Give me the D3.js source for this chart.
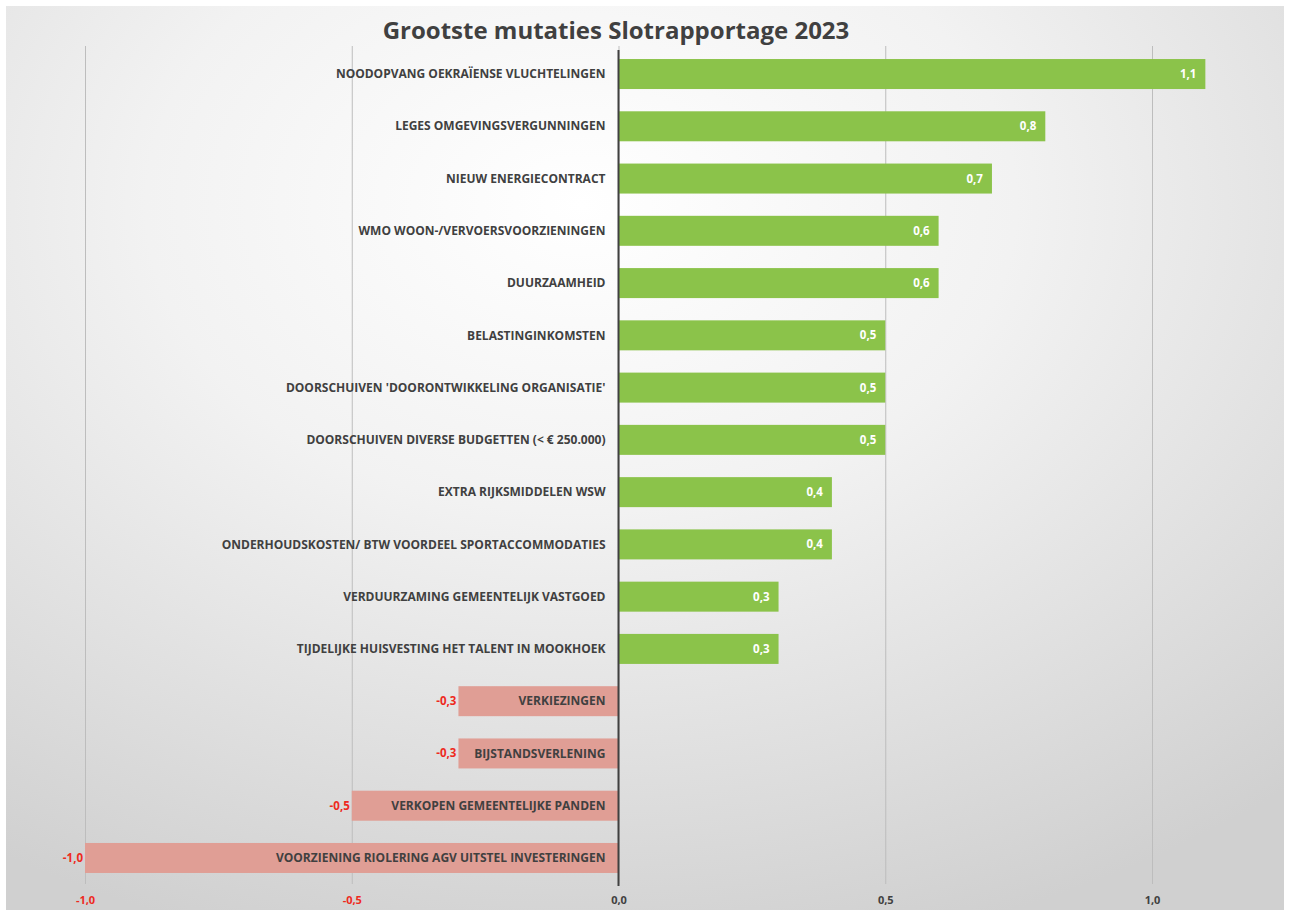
<!DOCTYPE html>
<html>
<head>
<meta charset="utf-8">
<script src="https://cdn.jsdelivr.net/npm/d3@7"></script>
<style>
  body { margin: 0; background: #fff; }
  svg { display: block; }
</style>
</head>
<body>
<svg id="chart"></svg>
<script>
const width = 1290;
const height = 910;

const categories = [
  "NOODOPVANG OEKRAÏENSE VLUCHTELINGEN",
  "LEGES OMGEVINGSVERGUNNINGEN",
  "NIEUW ENERGIECONTRACT",
  "WMO WOON-/VERVOERSVOORZIENINGEN",
  "DUURZAAMHEID",
  "BELASTINGINKOMSTEN",
  "DOORSCHUIVEN 'DOORONTWIKKELING ORGANISATIE'",
  "DOORSCHUIVEN DIVERSE BUDGETTEN (< € 250.000)",
  "EXTRA RIJKSMIDDELEN WSW",
  "ONDERHOUDSKOSTEN/ BTW VOORDEEL SPORTACCOMMODATIES",
  "VERDUURZAMING GEMEENTELIJK VASTGOED",
  "TIJDELIJKE HUISVESTING HET TALENT IN MOOKHOEK",
  "VERKIEZINGEN",
  "BIJSTANDSVERLENING",
  "VERKOPEN GEMEENTELIJKE PANDEN",
  "VOORZIENING RIOLERING AGV UITSTEL INVESTERINGEN"
];
const values = [1.1, 0.8, 0.7, 0.6, 0.6, 0.5, 0.5, 0.5, 0.4, 0.4, 0.3, 0.3, -0.3, -0.3, -0.5, -1.0];
const tickValues = [-1.0, -0.5, 0.0, 0.5, 1.0];

// comma decimals, plain hyphen for minus
const fmt = d => d3.format(".1f")(d).replace(".", ",").replace("\u2212", "-");

const svg = d3.select("#chart")
  .attr("width", width)
  .attr("height", height);

// background
const defs = svg.append("defs");
const grad = defs.append("radialGradient")
  .attr("id", "bg")
  .attr("cx", "45%").attr("cy", "22%").attr("r", "85%");
grad.append("stop").attr("offset", "0%").attr("stop-color", "#ffffff");
grad.append("stop").attr("offset", "40%").attr("stop-color", "#f2f2f2");
grad.append("stop").attr("offset", "100%").attr("stop-color", "#d0d0d0");

svg.append("rect").attr("width", width).attr("height", height).attr("fill", "#fff");
svg.append("rect")
  .attr("x", 6).attr("y", 6)
  .attr("width", width - 12).attr("height", height - 6)
  .attr("fill", "url(#bg)");

const x = d3.scaleLinear().domain([-1, 1]).range([85, 1152]);
const y = d3.scaleBand().domain(categories).range([47.9, 884.1])
  .paddingInner(0.426).paddingOuter(0.213);

// title
svg.append("text")
  .attr("x", 616).attr("y", 39)
  .attr("text-anchor", "middle")
  .attr("font-family", "'Open Sans', sans-serif")
  .attr("font-weight", "bold")
  .attr("font-size", "24px")
  .attr("fill", "#404040")
  .text("Grootste mutaties Slotrapportage 2023");

// gridlines + axis
const xAxis = d3.axisBottom(x)
  .tickValues(tickValues)
  .tickFormat(fmt)
  .tickSizeInner(-(884 - 46))
  .tickSizeOuter(0)
  .tickPadding(12);

const gx = svg.append("g")
  .attr("transform", "translate(0,884)")
  .call(xAxis);
gx.select(".domain").remove();
gx.selectAll(".tick line").attr("stroke", "#bdbdbd").attr("stroke-width", 1);
gx.selectAll(".tick text")
  .attr("font-family", "'Open Sans', sans-serif")
  .attr("font-weight", "bold")
  .attr("font-size", "11px")
  .attr("fill", d => d < 0 ? "#ee2a1e" : "#404040");

// bars
svg.append("g")
  .selectAll("rect")
  .data(values)
  .join("rect")
  .attr("x", d => x(Math.min(0, d)))
  .attr("y", (d, i) => y(categories[i]))
  .attr("width", d => Math.abs(x(d) - x(0)))
  .attr("height", y.bandwidth())
  .attr("fill", d => d >= 0 ? "#8bc34a" : "#e09e95");

// zero line
svg.append("line")
  .attr("x1", x(0)).attr("x2", x(0))
  .attr("y1", 50).attr("y2", 886)
  .attr("stroke", "#404040")
  .attr("stroke-width", 2);

// category labels
svg.append("g")
  .selectAll("text")
  .data(categories)
  .join("text")
  .attr("x", x(0) - 13)
  .attr("y", d => y(d) + y.bandwidth() / 2)
  .attr("dy", "0.35em")
  .attr("text-anchor", "end")
  .attr("font-family", "'Open Sans', sans-serif")
  .attr("font-weight", "bold")
  .attr("font-size", "12px")
  .attr("fill", "#404040")
  .text(d => d);

// value labels
svg.append("g")
  .selectAll("text")
  .data(values)
  .join("text")
  .attr("x", d => d >= 0 ? x(d) - 9 : x(d) - 2)
  .attr("y", (d, i) => y(categories[i]) + y.bandwidth() / 2)
  .attr("dy", "0.35em")
  .attr("text-anchor", "end")
  .attr("font-family", "'Open Sans', sans-serif")
  .attr("font-weight", "bold")
  .attr("font-size", "11.5px")
  .attr("fill", d => d >= 0 ? "#ffffff" : "#ee2a1e")
  .text(d => fmt(d));
</script>
</body>
</html>
